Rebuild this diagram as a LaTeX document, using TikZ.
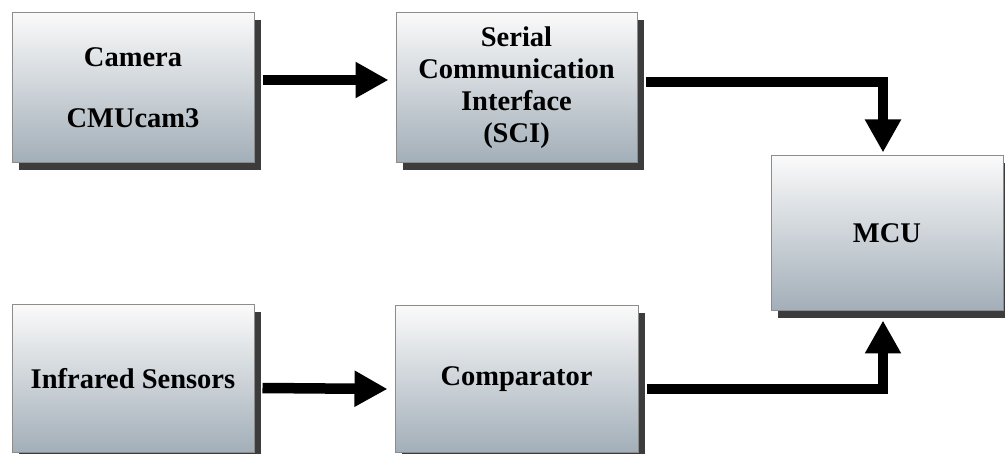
\documentclass[tikz,border=0pt]{standalone}
\usepackage{fontspec}
\setmainfont{Liberation Serif}
\usetikzlibrary{arrows.meta,shadows}
\definecolor{boxtop}{HTML}{FAFAFA}
\definecolor{boxbot}{HTML}{A2AEB8}
\definecolor{boxline}{HTML}{8C8C8C}
\definecolor{shadowc}{HTML}{3C3C3C}
\tikzset{
  block/.style={draw=boxline, line width=1pt, top color=boxtop, bottom color=boxbot,
    inner sep=0pt, align=center, font=\bfseries\fontsize{28.5}{32}\selectfont,
    drop shadow={shadow xshift=7pt, shadow yshift=-7pt, fill=shadowc, opacity=1}},
  arr/.style={line width=10.5pt, -{Triangle[width=34pt,length=33pt]}}
}
\begin{document}
\begin{tikzpicture}[x=1pt,y=-1pt]
\useasboundingbox (0,0) rectangle (1005,454);
% blocks (centre, width, height)
\node[block, minimum width=242pt, minimum height=150pt] (cam) at (133,88) {Camera\\[29pt]CMUcam3};
\node[block, minimum width=241pt, minimum height=150pt] (sci) at (516.5,88) {Serial\\Communication\\Interface\\(SCI)};
\node[block, minimum width=232pt, minimum height=155pt] (mcu) at (887,233.5) {MCU};
\node[block, minimum width=242pt, minimum height=148pt] (ir) at (133,379) {Infrared Sensors};
\node[block, minimum width=243pt, minimum height=147pt] (cmp) at (516.5,379.5) {Comparator};
% connectors
\draw[arr] ([shift={(8,-8)}]cam.east) -- ([shift={(-7,-8)}]sci.west);
\draw[arr] ([shift={(8,-6)}]sci.east) -| ([shift={(-4,-3)}]mcu.north);
\draw[arr] ([shift={(8,9)}]ir.east) -- ([shift={(-7,9.5)}]cmp.west);
\draw[arr] ([shift={(8,9.5)}]cmp.east) -| ([shift={(-4,9)}]mcu.south);
\end{tikzpicture}
\end{document}
